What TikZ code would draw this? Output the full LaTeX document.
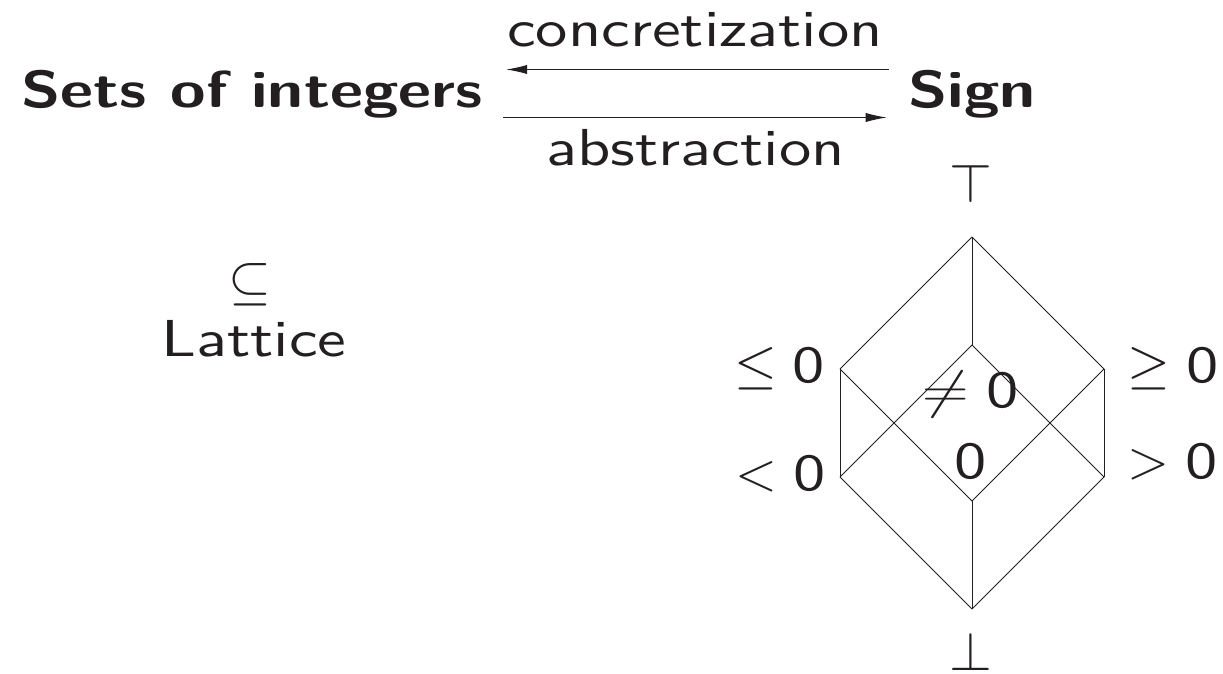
\RequirePackage{fix-cm}
\documentclass[tikz,border=0pt]{standalone}
\usepackage{fontspec}
\newfontfamily\lmsf{lmsans10-regular.otf}[BoldFont=lmsans10-bold.otf]
\usetikzlibrary{arrows.meta}
\definecolor{ink}{RGB}{35,31,32}
\newcommand{\tx}[1]{\scalebox{1.24}[1]{#1}}
\newcommand{\mth}[1]{{\fontsize{27.5}{33}\selectfont$#1$}}
\begin{document}
\begin{tikzpicture}[x=0.5pt,y=-0.5pt,
  mlab/.style={font=\fontsize{26}{31}\selectfont\lmsf, text=ink, inner sep=0pt, anchor=base},
  lab/.style={mlab, xscale=1.24},
  bold/.style={lab, font=\fontsize{26}{31}\selectfont\lmsf\bfseries},
  edge/.style={draw=ink, line width=0.5pt},
  arr/.style={draw=ink, line width=0.5pt, -{Latex[length=10.5pt,width=4.6pt]}}]
\useasboundingbox (0,0) rectangle (1223,674);
% top row
\node[bold] (sets) at (252,108) {Sets of integers};
\node[bold] (sign) at (972,108) {Sign};
\node[lab] (conc) at (695,47) {concretization};
\node[lab] (abst) at (695.5,166) {abstraction};
\coordinate (cy) at (0,69.5);
\coordinate (ay) at (0,117.5);
\draw[arr, shorten <=9.5pt, shorten >=11.5pt] (sign.west |- cy) -- (sets.east |- cy);
\draw[arr, shorten <=10pt, shorten >=10.5pt] (sets.east |- ay) -- (sign.west |- ay);
% left labels
\node[mlab] (sub) at (250,299) {\mth{\subseteq}};
\node[lab] (latt) at (254,357) {Lattice};
% lattice vertices
\coordinate (vtop) at (972,237);
\coordinate (vle) at (840,369);
\coordinate (vge) at (1104,369);
\coordinate (vne) at (972,345);
\coordinate (vlt) at (840,477);
\coordinate (vgt) at (1104,477);
\coordinate (vz) at (972,501);
\coordinate (vbot) at (972,609);
\draw[edge] (vtop) -- (vle);
\draw[edge] (vtop) -- (vge);
\draw[edge] (vtop) -- (vne);
\draw[edge] (vle) -- (vlt);
\draw[edge] (vle) -- (vz);
\draw[edge] (vge) -- (vgt);
\draw[edge] (vge) -- (vz);
\draw[edge] (vne) -- (vlt);
\draw[edge] (vne) -- (vgt);
\draw[edge] (vlt) -- (vbot);
\draw[edge] (vz) -- (vbot);
\draw[edge] (vgt) -- (vbot);
% lattice labels
\node[mlab] (ltop) at (971,203) {\mth{\top}};
\node[mlab] (lbot) at (971,670) {\mth{\bot}};
\node[mlab, anchor=base east] (lle) at (825.5,382) {\mth{\leq}\hspace{8pt}\tx{0}};
\node[mlab, anchor=base east] (llt) at (826,490) {\mth{<}\hspace{8pt}\tx{0}};
\node[mlab, anchor=base west] (lge) at (1127,382) {\mth{\geq}\hspace{8pt}\tx{0}};
\node[mlab, anchor=base west] (lgt) at (1127,479) {\mth{>}\hspace{8pt}\tx{0}};
\node[lab] (lne) at (970.5,408) {$\neq\hbox{0}$};
\node[lab] (lz) at (971,479) {0};
\end{tikzpicture}
\end{document}
